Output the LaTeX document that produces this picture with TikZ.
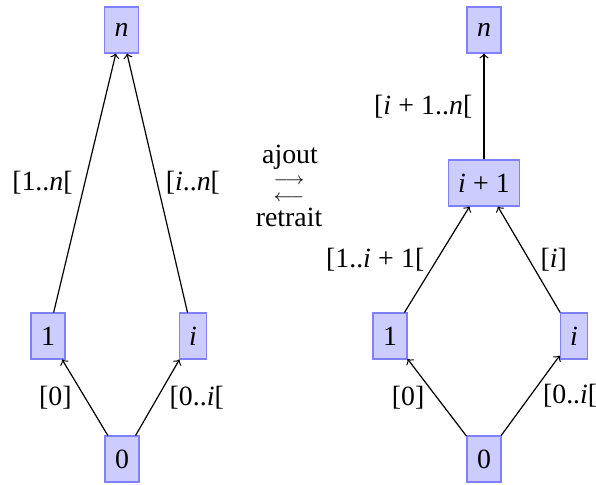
\documentclass[tikz,border=0pt]{standalone}
\usepackage{fontspec}
\setmainfont{Liberation Serif}
\newcommand{\vi}{\textit{i}}
\newcommand{\vn}{\textit{n}}
\newcommand{\pl}{\hspace{0.26em}+\hspace{0.26em}}
\begin{document}
\begin{tikzpicture}[x=0.41667pt,y=-0.41667pt,
  st/.style={draw=blue!50, fill=blue!20, line width=0.6pt, minimum height=19pt, inner xsep=4.1pt, inner ysep=0pt, font=\fontsize{11.6}{14}\selectfont},
  ed/.style={->, line width=0.5pt},
  lab/.style={font=\fontsize{11.6}{14}\selectfont, inner sep=3.33pt},
  arr/.style={font=\fontsize{7}{8}\selectfont, anchor=base, inner sep=0pt}]
\useasboundingbox (0,0) rectangle (596,484);
% left diagram
\node[st] (ln) at (121.5,30) {\vn};
\node[st] (l1) at (48,336) {1};
\node[st] (li) at (193,336) {\vi};
\node[st] (l0) at (122,459) {0};
\draw[ed] (l1) -- node[lab, left=1.5pt] {[1..\vn[} (ln);
\draw[ed] (li) -- node[lab, right=0pt] {[\vi..\vn[} (ln);
\draw[ed] (l0) -- node[lab, left=2pt] {[0]} (l1);
\draw[ed] (l0) -- node[lab, right=1.5pt] {[0..\vi[} (li);
% middle
\node[lab, anchor=base, inner sep=0pt] (aj) at (290,163) {ajout};
\node[arr] (ra) at (289,184.5) {$\longrightarrow$};
\node[arr] (la) at (289,201.5) {$\longleftarrow$};
\node[lab, anchor=base, inner sep=0pt] (re) at (289,226) {retrait};
% right diagram
\node[st] (rn) at (484,30) {\vn};
\node[st] (rip) at (484,183) {\vi\pl1};
\node[st] (r1) at (390,336) {1};
\node[st] (ri) at (574,336) {\vi};
\node[st] (r0) at (484,459) {0};
\draw[ed] (rip) -- node[lab, left=1.3pt] {[\vi\pl1..\vn[} (rn);
\draw[ed] (r1) -- node[lab, left=1.7pt] {[1..\vi\pl1[} (rip);
\draw[ed] (ri) -- node[lab, right=1.3pt] {[\vi]} (rip);
\draw[ed] (r0) -- node[lab, left=1.7pt] {[0]} (r1);
\draw[ed] (r0) -- node[lab, right=1.7pt] {[0..\vi[} (ri);
\end{tikzpicture}
\end{document}
